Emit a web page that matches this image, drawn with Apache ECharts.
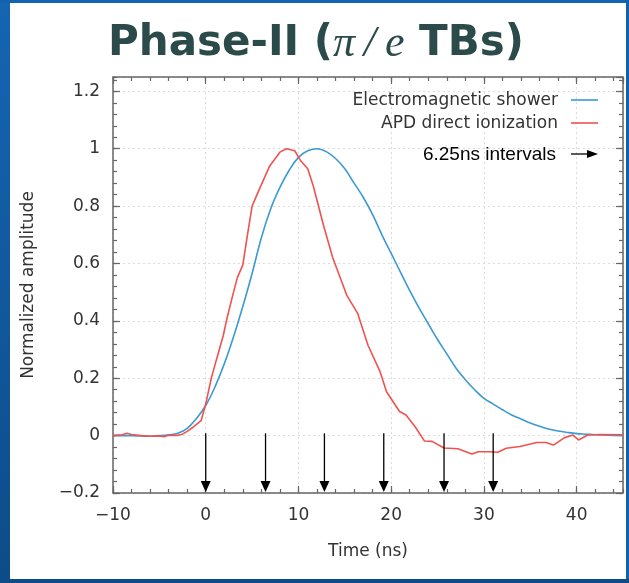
<!DOCTYPE html>
<html>
<head>
<meta charset="utf-8">
<script src="https://cdn.jsdelivr.net/npm/echarts@6/dist/echarts.min.js"></script>
<style>
  html, body { margin: 0; padding: 0; background: #fff; }
  #main { width: 629px; height: 583px; }
</style>
</head>
<body>
<div id="main"></div>
<script>
// electromagnetic shower pulse (blue)
var timeBlue = [-10, -8, -6, -5, -4, -3, -2, -1, 0, 1, 2, 3, 4, 5, 6, 7, 8, 9, 10, 11, 12, 13, 14, 15, 16, 17, 18, 19, 20,
  21, 22, 23, 24, 25, 26, 27, 28, 29, 30, 31, 32, 33, 34, 35, 36, 37, 38, 39, 40, 41, 42, 43, 44, 45];
var ampBlue = [0.0, 0.0, -0.002, 0.0, 0.003, 0.008, 0.025, 0.06, 0.105, 0.17, 0.25, 0.345, 0.45, 0.565, 0.69, 0.79, 0.865, 0.925, 0.97, 0.993, 1.0, 0.99, 0.966, 0.93, 0.88, 0.83, 0.77, 0.70, 0.635,
  0.57, 0.505, 0.445, 0.39, 0.335, 0.285, 0.235, 0.195, 0.16, 0.13, 0.11, 0.09, 0.072, 0.058, 0.044, 0.033, 0.023, 0.016, 0.011, 0.007, 0.005, 0.003, 0.002, 0.001, 0.001];

// APD direct ionization pulse (red)
var timeRed = [-10, -9, -8.5, -8, -7, -6, -5, -4.5, -4, -3, -2.5, -2, -1.3, -0.5, 0, 0.6, 1.2, 1.9, 2.3, 3.0, 3.4, 4.0, 4.5, 5.0, 5.8, 6.9, 8.0, 8.7, 9.6, 10.2, 11.0, 11.6,
  12.7, 13.7, 15.2, 16.4, 17.5, 18.8, 19.5, 20.9, 21.6, 22.6, 23.6, 24.4, 25.7, 27.2, 28.7, 29.4, 30.5, 31.5, 32.4, 33.9, 35.7, 36.7, 37.5, 38.7, 39.6, 40.2, 41.2, 42.5, 45];
var ampRed = [0.0, 0.003, 0.008, 0.004, 0.0, -0.002, -0.001, -0.004, 0.001, 0.001, 0.005, 0.015, 0.031, 0.052, 0.11, 0.2, 0.27, 0.35, 0.41, 0.50, 0.55, 0.595, 0.70, 0.80, 0.86, 0.94, 0.988, 1.0, 0.993, 0.96, 0.93, 0.87,
  0.733, 0.62, 0.49, 0.425, 0.315, 0.223, 0.153, 0.084, 0.072, 0.03, -0.019, -0.02, -0.043, -0.046, -0.064, -0.056, -0.056, -0.058, -0.044, -0.038, -0.024, -0.024, -0.033, -0.007, 0.002, -0.015, 0.002, 0.004, 0.003];

// sampling arrows
var arrowTimes = [0, 6.45, 12.8, 19.2, 25.7, 31.0];
var arrowTop = 0.008;

var seriesNames = ['Electromagnetic shower', 'APD direct ionization'];
var blueColor = '#3b9ad2';
var redColor = '#ef5350';
var axisColor = '#666';
var font = 'DejaVu Sans';

function pairs(xs, ys) {
  return xs.map(function (x, i) { return [x, ys[i]]; });
}
function fmt(v) {
  return String(+v.toFixed(2)).replace('-', '\u2212');
}

var chart = echarts.init(document.getElementById('main'));

function xAx(pos, major) {
  return {
    type: 'value', position: pos, min: -10, max: 45, interval: major ? 10 : 2,
    axisLine: { show: major, onZero: false, lineStyle: { color: axisColor, width: 1.5 } },
    axisTick: { inside: true, length: major ? 7 : 4, lineStyle: { color: axisColor, width: 1.2 } },
    axisLabel: { show: major && pos === 'bottom', formatter: fmt, showMaxLabel: false, margin: 14,
      color: '#333', fontFamily: font, fontSize: 17 },
    splitLine: { show: major && pos === 'bottom', lineStyle: { color: '#dcdcdc', type: [2, 3], width: 1 } },
    name: major && pos === 'bottom' ? 'Time (ns)' : '', nameLocation: 'middle', nameGap: 50,
    nameTextStyle: { color: '#333', fontFamily: font, fontSize: 17 }
  };
}
function yAx(pos, major) {
  return {
    type: 'value', position: pos, min: -0.2, max: 1.25, interval: major ? 0.2 : 0.04,
    axisLine: { show: major, onZero: false, lineStyle: { color: axisColor, width: 1.5 } },
    axisTick: { inside: true, length: major ? 7 : 4, lineStyle: { color: axisColor, width: 1.2 } },
    axisLabel: { show: major && pos === 'left', formatter: fmt, showMaxLabel: false, margin: 13,
      color: '#333', fontFamily: font, fontSize: 17 },
    splitLine: { show: major && pos === 'left', lineStyle: { color: '#dcdcdc', type: [2, 3], width: 1 } },
    name: major && pos === 'left' ? 'Normalized amplitude' : '', nameLocation: 'middle', nameGap: 76,
    nameTextStyle: { color: '#333', fontFamily: font, fontSize: 17 }
  };
}

var option = {
  animation: false,
  backgroundColor: '#fff',
  grid: { left: 113, right: 6, top: 77, bottom: 90 },
  xAxis: [xAx('bottom', true), xAx('bottom', false), xAx('top', true), xAx('top', false)],
  yAxis: [yAx('left', true), yAx('left', false), yAx('right', true), yAx('right', false)],
  graphic: [
    // slide frame
    { type: 'rect', left: 0, top: 0, shape: { width: 10, height: 583 }, z: 100,
      style: { fill: new echarts.graphic.LinearGradient(0, 0, 0, 1, [{ offset: 0, color: '#1565b3' }, { offset: 1, color: '#0d4c88' }]) } },
    { type: 'rect', left: 0, top: 0, shape: { width: 629, height: 3 }, z: 100, style: { fill: '#1463b0' } },
    { type: 'rect', left: 626, top: 0, shape: { width: 3, height: 583 }, z: 100, style: { fill: '#1360ad' } },
    { type: 'rect', left: 0, top: 579, shape: { width: 629, height: 4 }, z: 100, style: { fill: '#0d4c88' } },
    // title
    { type: 'text', left: 108, top: 22, z: 100,
      style: {
        text: '{b|Phase-II (}{m|\u03c0\u2009/\u2009e}{b| TBs)}',
        rich: {
          b: { fontFamily: font, fontWeight: 'bold', fontSize: 42, fill: '#2b4a4a' },
          m: { fontFamily: 'Liberation Serif', fontStyle: 'italic', fontSize: 44, fill: '#2b4a4a' }
        }
      } },
    // legend
    { type: 'text', x: 558, y: 101, z: 100, style: { text: seriesNames[0], align: 'right', verticalAlign: 'middle',
      fontFamily: font, fontSize: 17, fill: '#333' } },
    { type: 'line', z: 100, shape: { x1: 571, y1: 100, x2: 598, y2: 100 }, style: { stroke: blueColor, lineWidth: 1.6 } },
    { type: 'text', x: 558, y: 124, z: 100, style: { text: seriesNames[1], align: 'right', verticalAlign: 'middle',
      fontFamily: font, fontSize: 17, fill: '#333' } },
    { type: 'line', z: 100, shape: { x1: 571, y1: 123, x2: 598, y2: 123 }, style: { stroke: redColor, lineWidth: 1.6 } },
    { type: 'text', x: 556, y: 155, z: 100, style: { text: '6.25ns intervals', align: 'right', verticalAlign: 'middle',
      fontFamily: 'Liberation Sans', fontSize: 19, fill: '#000' } },
    { type: 'line', z: 100, shape: { x1: 571, y1: 154, x2: 590, y2: 154 }, style: { stroke: '#000', lineWidth: 1.3 } },
    { type: 'polygon', z: 100, shape: { points: [[587, 150], [598, 154], [587, 158]] }, style: { fill: '#000' } }
  ],
  series: [
    {
      name: seriesNames[0], type: 'line', smooth: 0.4, symbol: 'none',
      data: pairs(timeBlue, ampBlue),
      lineStyle: { color: blueColor, width: 1.6 }, z: 3
    },
    {
      name: seriesNames[1], type: 'line', symbol: 'none',
      data: pairs(timeRed, ampRed),
      lineStyle: { color: redColor, width: 1.6 }, z: 4
    },
    {
      name: 'intervals', type: 'custom', z: 5,
      data: arrowTimes.map(function (t) { return [t, -0.2]; }),
      encode: { x: 0, y: 1 },
      renderItem: function (params, api) {
        var t = api.value(0);
        var top = api.coord([t, arrowTop]);
        var tip = api.coord([t, api.value(1)]);
        return {
          type: 'group',
          children: [
            { type: 'line', shape: { x1: top[0], y1: top[1], x2: tip[0], y2: tip[1] - 8 },
              style: { stroke: '#000', lineWidth: 1.3 } },
            { type: 'polygon', shape: { points: [[tip[0] - 5, tip[1] - 12], [tip[0] + 5, tip[1] - 12], [tip[0], tip[1] - 1]] },
              style: { fill: '#000' } }
          ]
        };
      }
    }
  ]
};

chart.setOption(option);
</script>
</body>
</html>
